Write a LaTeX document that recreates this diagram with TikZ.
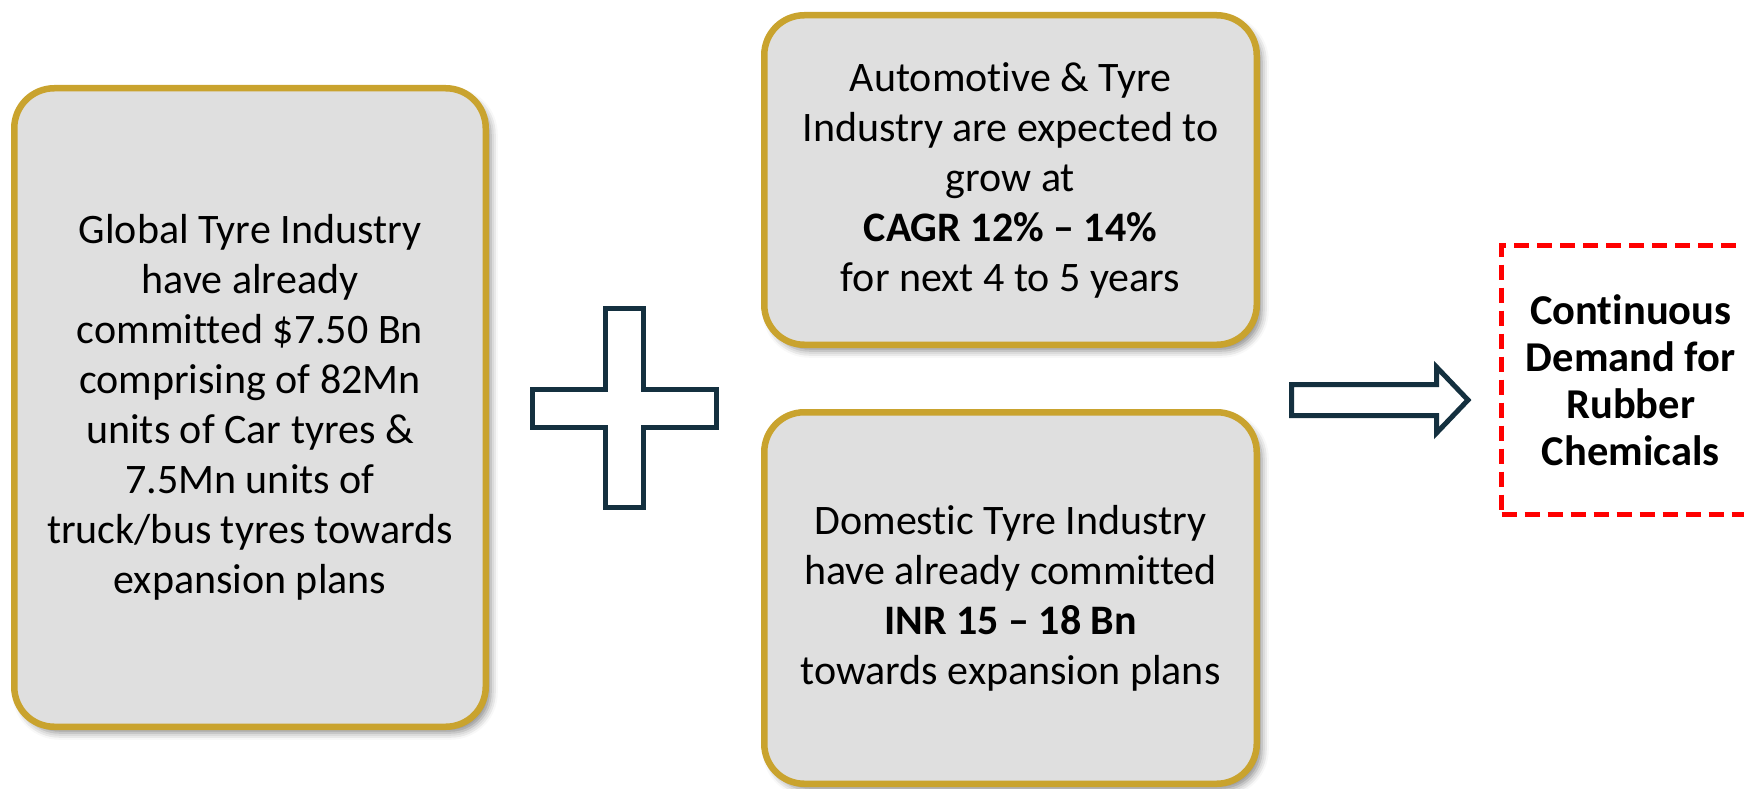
\documentclass[tikz,border=0pt]{standalone}
\usepackage{fontspec}
\setmainfont{Carlito}[Ligatures={NoCommon}]
\usetikzlibrary{shadows.blur}
\definecolor{cardfill}{HTML}{DFDFDF}
\definecolor{cardgold}{HTML}{C9A32E}
\definecolor{inkblue}{HTML}{14303F}
\definecolor{alertred}{HTML}{FF0000}
\begin{document}
\begin{tikzpicture}[x=1pt,y=-1pt,
  card/.style={draw=cardgold, line width=6.5pt, fill=cardfill, rounded corners=40pt,
    inner sep=0pt, align=center, font=\fontsize{42}{50}\selectfont,
    blur shadow={shadow xshift=5pt, shadow yshift=-6pt, shadow blur radius=7pt, shadow opacity=45}},
  outcome/.style={draw=alertred, line width=5pt, dash pattern=on 15pt off 8pt,
    inner sep=0pt, align=center, font=\fontsize{42.5}{47}\selectfont\bfseries},
  glyph/.style={draw=inkblue, line width=5pt, line join=miter, fill=white},
]
\useasboundingbox (0,0) rectangle (1744,789);
\clip (0,0) rectangle (1744,789);

% left card
\node[card, minimum width=471.5pt, minimum height=638.5pt] (global) at (250,407.5)
  {Global Tyre Industry\\ have already\\ committed \$7.50 Bn\\ comprising of 82Mn\\
   units of Car tyres \&\\ 7.5Mn units of\\ truck/bus tyres towards\\ expansion plans};

% upper right card
\node[card, minimum width=492.5pt, minimum height=329.5pt] (growth) at (1010.5,180)
  {Automotive \& Tyre\\ Industry are expected to\\ grow at\\ \textbf{CAGR 12\% – 14\%}\\
   for next 4 to 5 years};

% lower right card
\node[card, minimum width=492.5pt, minimum height=371.5pt] (domestic) at (1010.5,598)
  {Domestic Tyre Industry\\ have already committed\\ \textbf{INR 15 – 18 Bn}\\
   towards expansion plans};

% plus sign between the cards
\draw[glyph] (605.5,308.5) -- (643.5,308.5) -- (643.5,389.5) -- (716.5,389.5)
  -- (716.5,427.5) -- (643.5,427.5) -- (643.5,507.5) -- (605.5,507.5)
  -- (605.5,427.5) -- (532.5,427.5) -- (532.5,389.5) -- (605.5,389.5) -- cycle;

% block arrow towards the result
\draw[glyph] (1291.5,384.5) -- (1436.5,384.5) -- (1436.5,367) -- (1468,400)
  -- (1436.5,433) -- (1436.5,415.5) -- (1291.5,415.5) -- cycle;

% result
\node[outcome, minimum width=258.5pt, minimum height=269pt] (demand) at (1630.75,380)
  {Continuous\\ Demand for\\ Rubber\\ Chemicals};
\end{tikzpicture}
\end{document}
